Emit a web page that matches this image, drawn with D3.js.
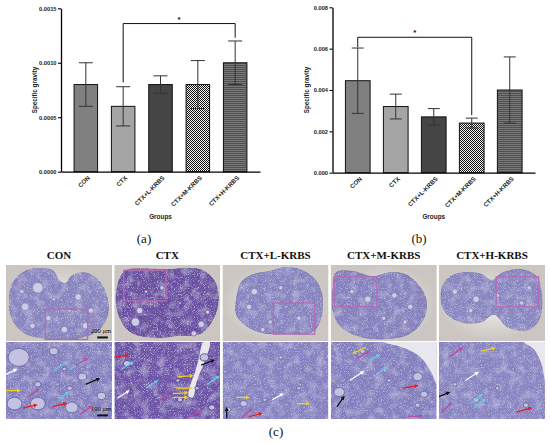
<!DOCTYPE html>
<html>
<head>
<meta charset="utf-8">
<script src="https://cdn.jsdelivr.net/npm/d3@7/dist/d3.min.js"></script>
<style>
  html, body { margin: 0; padding: 0; background: #fff; }
  svg { display: block; }
</style>
</head>
<body>
<svg id="fig" width="550" height="443"></svg>
<script>
/** Chart data */
const groups = ['CON', 'CTX', 'CTX+L-KRBS', 'CTX+M-KRBS', 'CTX+H-KRBS'];
const meanA = [0.0008, 0.0006, 0.0008, 0.0008, 0.0010];
const sdA = [0.0002, 0.00018, 0.00008, 0.00022, 0.0002];
const ticksA = [0, 0.0005, 0.0010, 0.0015];
const meanB = [0.00445, 0.0032, 0.0027, 0.0024, 0.0040];
const sdB = [0.00158, 0.0006, 0.0004, 0.00024, 0.0016];
const ticksB = [0, 0.002, 0.004, 0.006, 0.008];
// significance bracket: [from, to, bracket level, left foot, right foot]
const sigA = ['CTX', 'CTX+H-KRBS', 0.00136, 0.00082, 0.00123];
const sigB = ['CON', 'CTX+M-KRBS', 0.00655, 0.00607, 0.00279];

/** Micrograph sketch data (relative 0..1 panel units) */
const topOutlines = [
    [[0.03,0.45],[0.07,0.22],[0.18,0.08],[0.33,0.04],[0.45,0.08],[0.5,0.2],[0.56,0.24],[0.62,0.14],[0.74,0.1],[0.86,0.18],[0.95,0.4],[0.96,0.65],[0.88,0.85],[0.7,0.96],[0.4,0.97],[0.18,0.9],[0.06,0.72]],
    [[0.02,0.35],[0.1,0.08],[0.3,0.05],[0.5,0.06],[0.7,0.04],[0.85,0.08],[0.96,0.25],[0.98,0.5],[0.93,0.72],[0.82,0.9],[0.6,0.93],[0.4,0.96],[0.15,0.88],[0.04,0.65]],
    [[0.13,0.45],[0.18,0.22],[0.3,0.12],[0.45,0.08],[0.6,0.03],[0.75,0.07],[0.88,0.2],[0.94,0.4],[0.93,0.7],[0.85,0.88],[0.6,0.9],[0.4,0.9],[0.22,0.8],[0.13,0.65]],
    [[0.02,0.3],[0.05,0.1],[0.2,0.08],[0.4,0.15],[0.55,0.1],[0.7,0.12],[0.82,0.25],[0.9,0.45],[0.88,0.7],[0.75,0.9],[0.55,0.97],[0.3,0.95],[0.1,0.82],[0.02,0.6]],
    [[0.02,0.35],[0.08,0.18],[0.22,0.1],[0.4,0.12],[0.5,0.2],[0.6,0.1],[0.78,0.06],[0.92,0.15],[0.97,0.4],[0.95,0.7],[0.85,0.85],[0.65,0.82],[0.52,0.65],[0.4,0.75],[0.2,0.75],[0.05,0.6]]
];
const topTissue = ['#8884c0', '#6a4fa3', '#8683c0', '#8581be', '#8886c1'];
const botTissue = ['#8581c0', '#6e54a9', '#8682c1', '#8480c0', '#8885c2'];
const topBoxes = [
    [0.37, 0.58, 0.77, 0.98], [0.09, 0.07, 0.49, 0.47], [0.48, 0.5, 0.87, 0.91],
    [0.035, 0.155, 0.435, 0.55], [0.54, 0.155, 0.94, 0.55]
];
const topFollicles = [
    [[0.3,0.3,0.05],[0.18,0.55,0.035],[0.4,0.7,0.025],[0.68,0.42,0.03],[0.8,0.6,0.025],[0.55,0.85,0.03],[0.25,0.8,0.025],[0.75,0.8,0.03],[0.45,0.45,0.015],[0.6,0.6,0.015],[0.15,0.35,0.02]],
    [[0.2,0.75,0.04],[0.24,0.6,0.03],[0.82,0.78,0.03],[0.75,0.9,0.025],[0.88,0.62,0.02],[0.45,0.3,0.02],[0.3,0.35,0.015],[0.62,0.5,0.012]],
    [[0.3,0.35,0.03],[0.55,0.3,0.02],[0.25,0.55,0.025],[0.45,0.75,0.02],[0.72,0.7,0.02],[0.38,0.85,0.02],[0.6,0.55,0.012]],
    [[0.35,0.45,0.03],[0.6,0.4,0.025],[0.75,0.55,0.025],[0.7,0.75,0.02],[0.5,0.7,0.02],[0.2,0.35,0.02],[0.28,0.65,0.012]],
    [[0.15,0.35,0.025],[0.35,0.45,0.03],[0.55,0.4,0.02],[0.3,0.6,0.02],[0.78,0.5,0.02],[0.85,0.3,0.02],[0.65,0.7,0.012]]
];
const botFollicles = [
    [[0.12,0.2,0.1],[0.45,0.12,0.04],[0.72,0.45,0.04],[0.3,0.55,0.03],[0.3,0.8,0.07],[0.62,0.85,0.06],[0.08,0.8,0.07],[0.9,0.7,0.04],[0.55,0.35,0.02],[0.6,0.6,0.025]],
    [[0.12,0.28,0.035],[0.6,0.5,0.02],[0.62,0.75,0.025],[0.85,0.2,0.04],[0.92,0.85,0.03],[0.78,0.6,0.02]],
    [[0.05,0.88,0.03],[0.2,0.8,0.035],[0.4,0.75,0.02],[0.55,0.2,0.02],[0.72,0.6,0.02],[0.3,0.45,0.015]],
    [[0.08,0.65,0.05],[0.82,0.45,0.045],[0.88,0.68,0.035],[0.82,0.82,0.025],[0.3,0.12,0.025],[0.55,0.5,0.02]],
    [[0.35,0.75,0.03],[0.55,0.6,0.02],[0.15,0.55,0.02],[0.82,0.82,0.025],[0.7,0.35,0.015],[0.4,0.3,0.015]]
];
const botGaps = [
    [],
    [[0.84,0],[0.8,0.2],[0.76,0.4],[0.72,0.55],[0.7,0.7],[0.74,0.72],[0.78,0.5],[0.84,0.3],[0.9,0]],
    [],
    [[0.5,0],[0.7,0.08],[0.85,0.2],[0.95,0.4],[1,0.55],[1,0]],
    [[0.8,0],[0.9,0.1],[0.97,0.3],[1,0.5],[1,0]]
];
// arrows: [x1, y1, x2, y2, colour]
const botArrows = [
    [[0.0,0.42,0.09,0.36,'#fff'],[0.45,0.37,0.57,0.26,'#6cc8e8'],[0.6,0.36,0.7,0.27,'#6cc8e8'],[0.66,0.3,0.76,0.22,'#c04a98'],
     [0.75,0.55,0.87,0.48,'#111'],[0.0,0.63,0.12,0.63,'#f0d020'],[0.2,0.72,0.3,0.62,'#c04a98'],[0.16,0.86,0.28,0.82,'#e02020'],
     [0.44,0.84,0.56,0.8,'#e02020'],[0.5,0.74,0.58,0.66,'#6cc8e8'],[0.7,0.94,0.8,0.84,'#c04a98']],
    [[0.0,0.2,0.12,0.17,'#e02020'],[0.06,0.36,0.17,0.27,'#6cc8e8'],[0.03,0.73,0.13,0.64,'#fff'],[0.3,0.6,0.4,0.51,'#6cc8e8'],
     [0.6,0.45,0.73,0.44,'#f0d020'],[0.58,0.6,0.72,0.6,'#f0d020'],[0.55,0.67,0.68,0.66,'#f0d020'],[0.55,0.72,0.68,0.72,'#f0d020'],
     [0.42,0.77,0.5,0.67,'#c04a98'],[0.82,0.3,0.93,0.24,'#111'],[0.88,0.55,0.98,0.45,'#6cc8e8'],[0.7,0.98,0.8,0.9,'#c04a98']],
    [[0.13,0.72,0.24,0.72,'#f0d020'],[0.18,0.98,0.27,0.88,'#c04a98'],[0.25,0.97,0.36,0.93,'#e02020'],[0.04,0.99,0.04,0.87,'#111'],
     [0.47,0.75,0.56,0.68,'#fff'],[0.7,0.8,0.81,0.8,'#f0d020']],
    [[0.33,0.07,0.22,0.14,'#f0d020'],[0.24,0.22,0.35,0.13,'#c04a98'],[0.35,0.26,0.45,0.17,'#6cc8e8'],[0.18,0.5,0.3,0.39,'#fff'],
     [0.43,0.42,0.52,0.33,'#6cc8e8'],[0.68,0.6,0.81,0.57,'#e02020'],[0.06,0.84,0.12,0.72,'#111'],[0.73,0.97,0.85,0.96,'#c04a98']],
    [[0.1,0.19,0.21,0.09,'#c04a98'],[0.4,0.12,0.52,0.08,'#f0d020'],[0.25,0.5,0.36,0.4,'#fff'],[-0.02,0.72,0.09,0.66,'#111'],
     [0.02,0.92,0.11,0.8,'#c04a98'],[0.3,0.8,0.4,0.69,'#6cc8e8'],[0.33,0.86,0.43,0.75,'#6cc8e8'],[0.73,0.91,0.86,0.86,'#e02020']]
];

const svg = d3.select('#fig');
const sansBold = "'Liberation Sans', Arial, sans-serif";
const serif = "'Liberation Serif', 'Times New Roman', serif";
const defs = svg.append('defs');

// Bar patterns
const checker = defs.append('pattern').attr('id', 'checker')
    .attr('patternUnits', 'userSpaceOnUse').attr('width', 2).attr('height', 2);
checker.append('rect').attr('width', 2).attr('height', 2).attr('fill', '#f4f4f4');
checker.append('rect').attr('width', 1).attr('height', 1).attr('fill', '#111');
checker.append('rect').attr('x', 1).attr('y', 1).attr('width', 1).attr('height', 1).attr('fill', '#111');

const stripes = defs.append('pattern').attr('id', 'stripes')
    .attr('patternUnits', 'userSpaceOnUse').attr('width', 4).attr('height', 2);
stripes.append('rect').attr('width', 4).attr('height', 2).attr('fill', '#505050');
stripes.append('rect').attr('width', 4).attr('height', 0.7).attr('fill', '#8a8a8a');

const barFills = ['#808080', '#a5a5a5', '#454545', 'url(#checker)', 'url(#stripes)'];

// Tissue mottling filter: faint light blotches plus sparse fine grain
const speck = defs.append('filter').attr('id', 'speck')
    .attr('x', 0).attr('y', 0).attr('width', 1).attr('height', 1);
speck.append('feTurbulence').attr('type', 'fractalNoise').attr('baseFrequency', 0.12)
    .attr('numOctaves', 2).attr('seed', 7).attr('result', 'blot');
speck.append('feColorMatrix').attr('in', 'blot').attr('type', 'matrix')
    .attr('values', '0 0 0 0 0.68  0 0 0 0 0.67  0 0 0 0 0.86  0 0 0 0.9 -0.42').attr('result', 'blotc');
speck.append('feTurbulence').attr('type', 'fractalNoise').attr('baseFrequency', 1.3)
    .attr('numOctaves', 1).attr('seed', 3).attr('result', 'grain');
speck.append('feColorMatrix').attr('in', 'grain').attr('type', 'matrix')
    .attr('values', '0 0 0 0 0.86  0 0 0 0 0.86  0 0 0 0 0.96  0 0 0 1.8 -0.98').attr('result', 'grainc');
const m1 = speck.append('feMerge').attr('result', 'tex');
m1.append('feMergeNode').attr('in', 'SourceGraphic');
m1.append('feMergeNode').attr('in', 'blotc');
m1.append('feMergeNode').attr('in', 'grainc');
speck.append('feComposite').attr('in', 'tex').attr('in2', 'SourceAlpha').attr('operator', 'in');

const bgGrad = defs.append('radialGradient').attr('id', 'slide');
bgGrad.append('stop').attr('offset', '0%').attr('stop-color', '#efeeec');
bgGrad.append('stop').attr('offset', '100%').attr('stop-color', '#cbc6c2');

// Arrow markers, one per colour
const arrowColors = ['#fff', '#6cc8e8', '#c04a98', '#111', '#f0d020', '#e02020'];
arrowColors.forEach((c, i) => {
    defs.append('marker').attr('id', `arr${i}`)
        .attr('viewBox', '0 0 10 10').attr('refX', 5).attr('refY', 5)
        .attr('markerWidth', 3.2).attr('markerHeight', 3.2).attr('orient', 'auto')
        .append('path').attr('d', 'M0,0L10,5L0,10z').attr('fill', c);
});

/** Bar chart with error bars and significance bracket */
function drawChart(opts) {
    const { means, sds, ticks, fmt, sig, xRange, yRange, inner, outer, capW } = opts;
    const x = d3.scaleBand().domain(groups).range(xRange).paddingInner(inner).paddingOuter(outer);
    const y = d3.scaleLinear().domain([0, ticks[ticks.length - 1]]).range(yRange);
    const g = svg.append('g');

    // Bars
    g.selectAll('rect.bar').data(groups).enter().append('rect')
        .attr('x', d => x(d))
        .attr('y', (d, i) => y(means[i]))
        .attr('width', x.bandwidth())
        .attr('height', (d, i) => y(0) - y(means[i]))
        .attr('fill', (d, i) => barFills[i])
        .attr('stroke', '#111').attr('stroke-width', 1);

    // Error bars
    groups.forEach((d, i) => {
        const cx = x(d) + x.bandwidth() / 2;
        const lo = y(means[i] - sds[i]), hi = y(means[i] + sds[i]);
        g.append('line').attr('x1', cx).attr('x2', cx).attr('y1', lo).attr('y2', hi)
            .attr('stroke', '#333').attr('stroke-width', 1);
        [lo, hi].forEach(v => g.append('line')
            .attr('x1', cx - capW / 2).attr('x2', cx + capW / 2).attr('y1', v).attr('y2', v)
            .attr('stroke', '#333').attr('stroke-width', 1));
    });

    // Axes
    const yAxis = g.append('g').attr('transform', `translate(${xRange[0]},0)`)
        .call(d3.axisLeft(y).tickValues(ticks).tickFormat(d3.format(fmt)).tickSize(3).tickPadding(1.5).tickSizeOuter(0));
    yAxis.selectAll('text').attr('font-family', sansBold).attr('font-weight', 'bold')
        .attr('font-size', 5.7).attr('fill', '#222');
    yAxis.select('.domain').attr('stroke-width', 1.3);
    yAxis.selectAll('.tick line').attr('stroke-width', 1.1);

    const xAxis = g.append('g').attr('transform', `translate(0,${y(0)})`)
        .call(d3.axisBottom(x).tickSize(0).tickSizeOuter(0).tickFormat(''));
    xAxis.select('.domain').attr('stroke-width', 1.3);

    g.selectAll('text.xlab').data(groups).enter().append('text')
        .attr('transform', d => `translate(${x(d) + x.bandwidth() / 2 + 3},${y(0) + 5}) rotate(-45)`)
        .attr('text-anchor', 'end').attr('dy', '0.35em')
        .attr('font-family', sansBold).attr('font-weight', 'bold').attr('font-size', 6.2).attr('fill', '#222')
        .text(d => d);

    // Axis titles
    g.append('text')
        .attr('transform', `translate(${xRange[0] - 26},${(yRange[0] + yRange[1]) / 2}) rotate(-90)`)
        .attr('text-anchor', 'middle').attr('dy', '0.35em')
        .attr('font-family', sansBold).attr('font-weight', 'bold').attr('font-size', 6.3).attr('fill', '#222')
        .text('Specific gravity');
    g.append('text')
        .attr('x', (x(groups[0]) + x(groups[4]) + x.bandwidth()) / 2).attr('y', 219)
        .attr('text-anchor', 'middle')
        .attr('font-family', sansBold).attr('font-weight', 'bold').attr('font-size', 6.4).attr('fill', '#222')
        .text('Groups');

    // Significance bracket
    const [from, to, lvl, footL, footR] = sig;
    const xa = x(from) + x.bandwidth() / 2, xb = x(to) + x.bandwidth() / 2;
    g.append('path')
        .attr('d', `M${xa},${y(footL)}V${y(lvl)}H${xb}V${y(footR)}`)
        .attr('fill', 'none').attr('stroke', '#111').attr('stroke-width', 1);
    g.append('text').attr('x', (xa + xb) / 2).attr('y', y(lvl) - 2)
        .attr('text-anchor', 'middle').attr('font-family', sansBold).attr('font-weight', 'bold')
        .attr('font-size', 8).attr('fill', '#111').text('*');
}

drawChart({ means: meanA, sds: sdA, ticks: ticksA, fmt: '.4f', sig: sigA,
    xRange: [61, 260], yRange: [171.7, 8.3], inner: 0.37, outer: 0.35, capW: 14 });
drawChart({ means: meanB, sds: sdB, ticks: ticksB, fmt: '.3f', sig: sigB,
    xRange: [332.5, 535], yRange: [172.7, 7.3], inner: 0.35, outer: 0.34, capW: 12 });

// Panel letters
[['(a)', 144, 243], ['(b)', 419, 243], ['(c)', 276, 436]].forEach(([t, px, py]) => {
    svg.append('text').attr('x', px).attr('y', py).attr('text-anchor', 'middle')
        .attr('font-family', serif).attr('font-size', 13).attr('fill', '#111').text(t);
});

/** Micrograph panel sketches */
const col = d3.scaleBand().domain(groups).range([6, 545]).paddingInner(0.02);
const rowTop = [265, 341], rowBot = [342, 419];

groups.forEach((grp, i) => {
    const x0 = col(grp), w = col.bandwidth();
    svg.append('text').attr('x', x0 + w / 2).attr('y', 259).attr('text-anchor', 'middle')
        .attr('font-family', serif).attr('font-weight', 'bold').attr('font-size', 11).attr('fill', '#111')
        .text(grp);

    // --- top (whole ovary) ---
    const sx = d3.scaleLinear().range([x0, x0 + w]);
    const syT = d3.scaleLinear().range(rowTop);
    const clipT = defs.append('clipPath').attr('id', `ct${i}`);
    clipT.append('rect').attr('x', x0).attr('y', rowTop[0]).attr('width', w).attr('height', rowTop[1] - rowTop[0]);
    const gt = svg.append('g').attr('clip-path', `url(#ct${i})`);
    gt.append('rect').attr('x', x0).attr('y', rowTop[0]).attr('width', w).attr('height', rowTop[1] - rowTop[0])
        .attr('fill', 'url(#slide)');
    const outline = d3.line().x(d => sx(d[0])).y(d => syT(d[1])).curve(d3.curveCatmullRomClosed);
    gt.append('path').attr('d', outline(topOutlines[i]))
        .attr('fill', topTissue[i]).attr('stroke', d3.color(topTissue[i]).darker(0.6)).attr('stroke-width', 0.8)
        .attr('filter', 'url(#speck)');
    gt.selectAll(null).data(topFollicles[i]).enter().append('circle')
        .attr('cx', d => sx(d[0])).attr('cy', d => syT(d[1])).attr('r', d => d[2] * w)
        .attr('fill', '#cfcde6').attr('stroke', d3.color(topTissue[i]).darker(0.5)).attr('stroke-width', 0.5);
    const b = topBoxes[i];
    gt.append('rect').attr('x', sx(b[0])).attr('y', syT(b[1]))
        .attr('width', sx(b[2]) - sx(b[0])).attr('height', syT(b[3]) - syT(b[1]))
        .attr('fill', 'none').attr('stroke', '#b46cb4').attr('stroke-width', 1.3);

    // --- bottom (magnified) ---
    const syB = d3.scaleLinear().range(rowBot);
    const clipB = defs.append('clipPath').attr('id', `cb${i}`);
    clipB.append('rect').attr('x', x0).attr('y', rowBot[0]).attr('width', w).attr('height', rowBot[1] - rowBot[0]);
    const gb = svg.append('g').attr('clip-path', `url(#cb${i})`);
    gb.append('rect').attr('x', x0).attr('y', rowBot[0]).attr('width', w).attr('height', rowBot[1] - rowBot[0])
        .attr('fill', botTissue[i]).attr('filter', 'url(#speck)');
    if (botGaps[i].length) {
        const gap = d3.line().x(d => sx(d[0])).y(d => syB(d[1])).curve(d3.curveCatmullRomClosed);
        gb.append('path').attr('d', gap(botGaps[i])).attr('fill', '#e9e7ee');
    }
    gb.selectAll(null).data(botFollicles[i]).enter().append('ellipse')
        .attr('cx', d => sx(d[0])).attr('cy', d => syB(d[1]))
        .attr('rx', d => d[2] * w).attr('ry', d => d[2] * w * 0.85)
        .attr('fill', '#c4c2e2').attr('stroke', d3.color(botTissue[i]).darker(0.6)).attr('stroke-width', 0.9);
    gb.selectAll(null).data(botArrows[i]).enter().append('line')
        .attr('x1', d => sx(d[0])).attr('y1', d => syB(d[1]))
        .attr('x2', d => sx(d[2])).attr('y2', d => syB(d[3]))
        .attr('stroke', d => d[4]).attr('stroke-width', 1.3)
        .attr('marker-end', d => `url(#arr${arrowColors.indexOf(d[4])})`);

    // scale bars on first column
    if (i === 0) {
        [[rowTop, '200 μm'], [rowBot, '100 μm']].forEach(([r, label]) => {
            const sy = d3.scaleLinear().range(r);
            svg.append('text').attr('x', sx(0.99)).attr('y', sy(0.9)).attr('text-anchor', 'end')
                .attr('font-family', serif).attr('font-size', 6.5).attr('fill', '#111').text(label);
            svg.append('rect').attr('x', sx(0.86)).attr('y', sy(0.94)).attr('width', w * 0.1).attr('height', 2)
                .attr('fill', '#111');
        });
    }
});
</script>
</body>
</html>
